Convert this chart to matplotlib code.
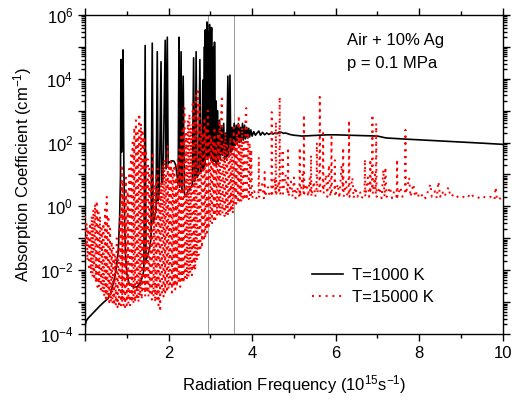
import numpy as np
import matplotlib
matplotlib.use("Agg")
import matplotlib.pyplot as plt
from matplotlib.ticker import LogLocator, FuncFormatter, NullFormatter, MultipleLocator

plt.rcParams['font.family'] = ['Liberation Sans', 'DejaVu Sans']
plt.rcParams['mathtext.default'] = 'regular'

# T = 1000 K (black, solid)
black_x = [0.00, 0.01, 0.03, 0.08, 0.15, 0.25, 0.35, 0.45, 0.55, 0.62, 0.68, 0.72, 0.76, 0.80,
           0.83, 0.85, 0.86, 0.875, 0.89, 0.91, 0.93, 0.95, 0.97, 1.00, 1.05, 1.15, 1.25, 1.32,
           1.37, 1.41, 1.44, 1.46, 1.50, 1.55, 1.58, 1.61, 1.63, 1.67, 1.70, 1.73, 1.75, 1.78,
           1.82, 1.84, 1.87, 1.92, 1.94, 1.97, 1.99, 2.03, 2.08, 2.13, 2.17, 2.20, 2.23, 2.25,
           2.27, 2.30, 2.32, 2.35, 2.38, 2.42, 2.46, 2.50, 2.54, 2.57, 2.60, 2.62, 2.64, 2.66,
           2.68, 2.72, 2.75, 2.77, 2.80, 2.82, 2.84, 2.86, 2.87, 2.88, 2.89, 2.90, 2.91, 2.92,
           2.93, 2.94, 2.95, 2.96, 2.97, 2.98, 2.99, 3.00, 3.01, 3.03, 3.04, 3.05, 3.06, 3.08,
           3.09, 3.10, 3.12, 3.14, 3.15, 3.17, 3.19, 3.22, 3.24, 3.27, 3.29, 3.32, 3.34, 3.37,
           3.39, 3.42, 3.44, 3.47, 3.49, 3.52, 3.54, 3.57, 3.59, 3.62, 3.64, 3.67, 3.69, 3.72,
           3.74, 3.77, 3.79, 3.82, 3.84, 3.87, 3.89, 3.92, 3.94, 3.97, 4.00, 4.04, 4.08, 4.12,
           4.16, 4.20, 4.25, 4.30, 4.35, 4.40, 4.45, 4.50, 4.55, 4.60, 4.65, 4.70, 4.75, 4.80,
           4.90, 5.00, 5.20, 5.40, 5.60, 5.80, 6.00, 6.30, 6.60, 7.00, 7.20, 7.60, 8.00, 8.50,
           9.00, 9.50, 10.00]
black_y = [1.1e-4, 2.0e-4, 2.6e-4, 3.2e-4, 4.0e-4, 5.5e-4, 7.5e-4, 1.0e-3, 1.3e-3, 2.0e-3, 4e-3, 7e-3, 1.5e-2, 5e-2,
           0.5, 10, 4e4, 50, 200, 8e4, 20, 0.3, 0.03, 8e-3, 4e-3, 3e-3, 3e-3, 4e-3,
           6e-3, 0.01, 1.1e5, 0.02, 0.03, 0.05, 0.1, 1.3e5, 0.3, 0.5, 0.8, 7e4, 1.5, 3,
           3.4e4, 5, 8, 1.6e5, 15, 2e5, 22, 25, 27, 26, 20, 10, 5, 2e5,
           4, 7e4, 3, 1.2e4, 2.5, 2, 3, 3.5, 4, 5, 4.5e4, 6, 8, 7e4,
           8, 10, 4e4, 12, 15, 9e3, 15, 1e5, 20, 3.4e5, 30, 2e5, 40, 6e5,
           30, 1e5, 40, 3e5, 50, 5e5, 40, 2e5, 30, 4e5, 30, 5e4, 25, 1e5,
           30, 1.4e5, 25, 2e3, 20, 1e3, 25, 500, 30, 300, 40, 400, 30, 200,
           35, 1.2e4, 40, 1.3e4, 50, 300, 60, 400, 80, 350, 90, 400, 100, 300,
           110, 400, 120, 350, 130, 300, 140, 280, 150, 250, 160, 220, 170, 200,
           230, 170, 210, 175, 200, 180, 195, 185, 200, 190, 215, 210, 195, 200,
           180, 170, 160, 165, 170, 175, 175, 170, 165, 160, 140, 130, 122, 112,
           104, 96, 88]

# T = 15000 K (red, dotted)
red_x = [0.00, 0.02, 0.04, 0.06, 0.08, 0.10, 0.12, 0.14, 0.16, 0.18, 0.20, 0.22, 0.24, 0.26,
         0.28, 0.30, 0.32, 0.34, 0.36, 0.38, 0.40, 0.42, 0.44, 0.46, 0.48, 0.50, 0.52, 0.54,
         0.56, 0.58, 0.60, 0.62, 0.64, 0.66, 0.68, 0.70, 0.72, 0.74, 0.76, 0.78, 0.80, 0.82,
         0.84, 0.86, 0.88, 0.89, 0.90, 0.92, 0.94, 0.96, 0.98, 1.00, 1.02, 1.04, 1.06, 1.08,
         1.10, 1.12, 1.14, 1.16, 1.18, 1.20, 1.22, 1.24, 1.26, 1.28, 1.30, 1.32, 1.34, 1.36,
         1.38, 1.40, 1.42, 1.44, 1.46, 1.48, 1.50, 1.52, 1.54, 1.56, 1.58, 1.60, 1.62, 1.64,
         1.66, 1.68, 1.70, 1.72, 1.74, 1.76, 1.78, 1.80, 1.82, 1.84, 1.86, 1.88, 1.90, 1.92,
         1.94, 1.96, 1.98, 2.00, 2.02, 2.04, 2.06, 2.08, 2.10, 2.12, 2.14, 2.16, 2.18, 2.20,
         2.22, 2.24, 2.26, 2.28, 2.30, 2.32, 2.34, 2.36, 2.38, 2.40, 2.42, 2.44, 2.46, 2.48,
         2.50, 2.52, 2.54, 2.56, 2.58, 2.60, 2.62, 2.64, 2.66, 2.68, 2.70, 2.72, 2.74, 2.76,
         2.78, 2.80, 2.82, 2.84, 2.86, 2.88, 2.90, 2.92, 2.94, 2.96, 2.98, 3.00, 3.02, 3.04,
         3.06, 3.08, 3.10, 3.12, 3.14, 3.16, 3.18, 3.20, 3.22, 3.24, 3.26, 3.28, 3.29, 3.32,
         3.34, 3.36, 3.38, 3.40, 3.42, 3.44, 3.46, 3.48, 3.50, 3.52, 3.54, 3.56, 3.58, 3.60,
         3.62, 3.64, 3.66, 3.68, 3.70, 3.72, 3.74, 3.76, 3.78, 3.80, 3.82, 3.84, 3.86, 3.87,
         3.90, 3.92, 3.94, 3.96, 3.98, 4.00,
         4.05, 4.10, 4.15, 4.16, 4.17, 4.24, 4.28, 4.29, 4.30, 4.31, 4.38, 4.42, 4.46, 4.47,
         4.48, 4.54, 4.56, 4.57, 4.58, 4.63, 4.65, 4.66, 4.67, 4.72, 4.73, 4.74, 4.80, 4.85,
         4.86, 4.87, 4.93, 4.97, 5.00, 5.04, 5.08, 5.13, 5.14, 5.15, 5.21, 5.23, 5.24, 5.25,
         5.31, 5.34, 5.38, 5.40, 5.41, 5.42, 5.48, 5.51, 5.54, 5.55, 5.56, 5.61, 5.62, 5.63,
         5.69, 5.70, 5.71, 5.77, 5.80, 5.84, 5.87, 5.89, 5.90, 5.91, 5.97, 5.98, 5.99, 6.05,
         6.09, 6.14, 6.17, 6.18, 6.19, 6.25, 6.28, 6.31, 6.32, 6.33, 6.40, 6.43, 6.47, 6.52,
         6.58, 6.62, 6.69, 6.70, 6.71, 6.77, 6.80, 6.82, 6.83, 6.84, 6.87, 6.88, 6.89, 6.94,
         6.96, 6.97, 6.98, 7.05, 7.10, 7.14, 7.17, 7.19, 7.22, 7.30, 7.35, 7.40, 7.46, 7.47,
         7.48, 7.55, 7.60, 7.66, 7.67, 7.68, 7.73, 7.76, 7.79, 7.86, 7.90, 7.95, 8.00, 8.10,
         8.15, 8.27, 8.30, 8.38, 8.42, 8.46, 8.50, 8.55, 8.60, 8.70, 8.75, 8.85, 8.95, 9.05,
         9.15, 9.23, 9.30, 9.40, 9.50, 9.60, 9.70, 9.80, 9.83, 9.86, 9.92, 10.00]
red_y = [0.5, 0.05, 0.3, 0.02, 0.2, 0.01, 0.3, 0.008, 0.5, 0.006, 0.8, 0.005, 1.2, 0.004,
         1.5, 0.003, 0.8, 0.003, 0.5, 0.002, 0.2, 0.002, 0.3, 0.0015, 0.8, 0.0013, 2.0, 0.0012,
         0.5, 0.001, 0.2, 0.001, 0.08, 0.0009, 0.05, 0.0008, 0.03, 0.0008, 0.1, 0.0007, 0.05, 0.0007,
         0.5, 0.0008, 20, 0.001, 5, 0.0008, 2, 0.0007, 8, 0.0008, 3, 0.0009, 15, 0.0008,
         40, 0.001, 100, 0.0009, 300, 0.001, 500, 0.0012, 200, 0.001, 800, 0.0015, 400, 0.0012,
         250, 0.002, 150, 0.0015, 60, 0.002, 30, 0.0015, 15, 0.002, 8, 0.0012, 50, 0.0015,
         5, 0.001, 10, 0.0012, 15, 0.0008, 3, 0.0005, 6, 0.002, 20, 0.0015, 30, 0.002,
         10, 0.002, 80, 0.0025, 20, 0.003, 25, 0.002, 15, 0.003, 20, 0.0025, 8, 0.003,
         30, 0.004, 60, 0.003, 150, 0.005, 300, 0.004, 1200, 0.006, 200, 0.005, 500, 0.006,
         800, 0.008, 300, 0.007, 2000, 0.01, 1000, 0.01, 3000, 0.02, 5000, 0.03, 1500, 0.04,
         400, 0.05, 200, 0.08, 600, 0.1, 300, 0.15, 1000, 0.2, 200, 0.3, 150, 0.3,
         100, 0.4, 300, 0.4, 80, 0.5, 200, 0.5, 500, 0.5, 1000, 3000, 0.6, 100,
         0.5, 200, 0.6, 100, 0.5, 60, 0.6, 150, 0.7, 80, 0.6, 300, 1.0, 100,
         1.2, 200, 1.3, 700, 1.5, 150, 1.4, 300, 1.5, 100, 1.6, 500, 1200, 1.6,
         200, 1.7, 100, 1.8, 60, 1.8,
         3, 1.8, 2, 35, 2, 5, 1.8, 2, 12, 2, 4, 2, 2.5, 900,
         2.5, 8, 2.5, 450, 2.5, 6, 2.5, 2700, 2.5, 3, 60, 2.5, 10, 2.5,
         70, 2, 6, 2, 8, 1.8, 4, 2, 70, 2, 10, 2.5, 750, 2.5,
         5, 2, 8, 2.5, 40, 2, 6, 2, 3, 100, 3, 3, 2700, 3,
         3, 200, 2.5, 10, 2, 20, 2, 3, 150, 3, 3, 28, 2, 5,
         1.8, 20, 3, 70, 2, 6, 2, 2.5, 500, 2, 8, 1.8, 4, 2,
         3, 1.8, 2.5, 30, 2, 8, 2, 3, 30, 3, 3, 750, 2.5, 10,
         2.5, 400, 2, 4, 1.8, 14, 2, 17, 2, 4, 1.8, 3, 2, 30,
         2, 4, 2, 2.5, 250, 2.5, 5, 8, 2, 5, 2, 3, 1.8, 2.5,
         1.8, 5, 2, 3, 1.8, 6, 2, 3, 2, 4, 2, 2.5, 1.8, 2,
         1.8, 2.6, 2, 1.8, 2.2, 1.8, 2, 1.6, 4, 1.6, 1.8, 1.6]

marker_lines = [2.95, 3.56]

fig = plt.figure(figsize=(5.12, 4.03), dpi=100)
ax = fig.add_axes([0.166, 0.171, 0.816, 0.792])

for xv in marker_lines:
    ax.axvline(xv, color="#888888", lw=0.6, zorder=1)

ax.plot(black_x, black_y, color="black", lw=1.2, label="T=1000 K", zorder=2)
ax.plot(red_x, red_y, color="red", lw=1.4, ls=(0, (1, 2.5)), label="T=15000 K", zorder=3)

ax.set_yscale("log")
ax.set_xlim(0, 10)
ax.set_ylim(1e-4, 1e6)

ax.xaxis.set_major_locator(MultipleLocator(2))
ax.xaxis.set_minor_locator(MultipleLocator(1))
ax.xaxis.set_major_formatter(FuncFormatter(lambda v, p: "" if v == 0 else f"{v:g}"))

ax.yaxis.set_major_locator(LogLocator(base=10, numticks=20))
ax.yaxis.set_minor_locator(LogLocator(base=10, subs=np.arange(2, 10), numticks=20))
ax.yaxis.set_minor_formatter(NullFormatter())


def ylab(v, p):
    e = int(round(np.log10(v)))
    return "" if e % 2 else f"$10^{{{e}}}$"


ax.yaxis.set_major_formatter(FuncFormatter(ylab))

ax.tick_params(which="both", direction="out", top=True, right=True, labelsize=12, width=1.0)
ax.tick_params(which="major", length=5)
ax.tick_params(which="minor", length=3)
for s in ax.spines.values():
    s.set_linewidth(1.0)

ax.set_xlabel("Radiation Frequency (10$^{15}$s$^{-1}$)", fontsize=12, labelpad=9)
ax.set_ylabel("Absorption Coefficient (cm$^{-1}$)", fontsize=12, labelpad=4)

ax.text(0.627, 0.905, "Air + 10% Ag", transform=ax.transAxes, fontsize=12)
ax.text(0.627, 0.835, "p = 0.1 MPa", transform=ax.transAxes, fontsize=12)

ax.legend(loc="lower right", bbox_to_anchor=(0.85, 0.07), frameon=False, fontsize=12,
          handlelength=1.9, handletextpad=0.5, labelspacing=0.45, borderaxespad=0)

fig.savefig("out.png", dpi=100)
